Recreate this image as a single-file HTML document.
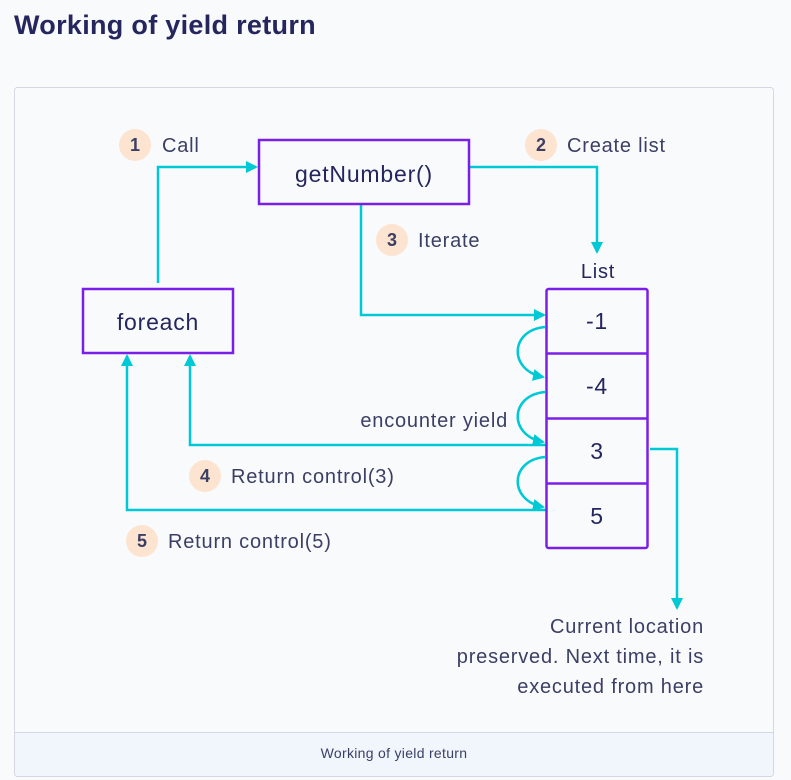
<!DOCTYPE html>
<html><head><meta charset="utf-8"><style>
html,body{margin:0;padding:0;background:#f9fafc;width:791px;height:780px;overflow:hidden;font-family:"Liberation Sans",sans-serif}
</style></head><body>
<svg width="791" height="780" xmlns="http://www.w3.org/2000/svg" font-family="Liberation Sans, sans-serif">
<rect width="791" height="780" fill="#f9fafc"/>
<text x="14" y="34" font-size="27" font-weight="bold" fill="#25265e" letter-spacing="0.3">Working of yield return</text>
<rect x="14.5" y="87.5" width="759" height="689" rx="3" fill="#f9fafc" stroke="#d3d8e4"/>
<path d="M15 732.5 H773 V773 a3 3 0 0 1 -3 3 H18 a3 3 0 0 1 -3 -3 Z" fill="#f1f5fc"/>
<line x1="15" y1="732.5" x2="773" y2="732.5" stroke="#d3d8e4"/>
<text x="394" y="758" font-size="14" fill="#3b3f64" text-anchor="middle" letter-spacing="0.3">Working of yield return</text>
<defs><marker id="a" markerWidth="12" markerHeight="12" refX="10" refY="6" orient="auto" markerUnits="userSpaceOnUse"><path d="M0,0 L12,6 L0,12 Z" fill="#00c9d6"/></marker></defs>
<g fill="none" stroke="#00c9d6" stroke-width="2.5">
<path d="M158 283 V167 H256" marker-end="url(#a)"/>
<path d="M470 167 H597 V252" marker-end="url(#a)"/>
<path d="M361 202 V315 H544" marker-end="url(#a)"/>
<path d="M546 445 H190 V356" marker-end="url(#a)"/>
<path d="M546 510 H127 V356" marker-end="url(#a)"/>
<path d="M650 449 H677 V608" marker-end="url(#a)"/>
<path d="M545 327 C510 330 508 370 543 377" marker-end="url(#a)"/>
<path d="M545 392 C510 395 508 435 543 442" marker-end="url(#a)"/>
<path d="M545 457 C510 460 508 500 543 507" marker-end="url(#a)"/>
</g>
<g fill="#f9fafc" stroke="#7a1fe8" stroke-width="2.5">
<rect x="259" y="140" width="210" height="64"/>
<rect x="83" y="289" width="150" height="64"/>
<rect x="546.5" y="289" width="101" height="259" rx="2"/>
<line x1="546" y1="353.5" x2="648" y2="353.5"/>
<line x1="546" y1="418.5" x2="648" y2="418.5"/>
<line x1="546" y1="483.5" x2="648" y2="483.5"/>
</g>
<g font-size="23" fill="#25265e" text-anchor="middle" letter-spacing="0.8">
<text x="364" y="182">getNumber()</text>
<text x="158" y="330">foreach</text>
<text x="597" y="329">-1</text>
<text x="597" y="394">-4</text>
<text x="597" y="459">3</text>
<text x="597" y="524">5</text>
<text x="598" y="278" font-size="20">List</text>
</g>
<g fill="#fde4d0">
<circle cx="135" cy="145" r="16"/><circle cx="541" cy="145" r="16"/><circle cx="392" cy="240" r="16"/><circle cx="205" cy="476" r="16"/><circle cx="142" cy="541" r="16"/>
</g>
<g font-size="18" font-weight="bold" fill="#3b3f64" text-anchor="middle">
<text x="135" y="151">1</text><text x="541" y="151">2</text><text x="392" y="246">3</text><text x="205" y="482">4</text><text x="142" y="547">5</text>
</g>
<g font-size="20" fill="#3b3f64" letter-spacing="0.8">
<text x="162" y="152">Call</text>
<text x="567" y="152">Create list</text>
<text x="418" y="247">Iterate</text>
<text x="231" y="483">Return control(3)</text>
<text x="168" y="548">Return control(5)</text>
<text x="508" y="427" text-anchor="end">encounter yield</text>
<text x="704" y="633" text-anchor="end">Current location</text>
<text x="704" y="663" text-anchor="end">preserved. Next time, it is</text>
<text x="704" y="693" text-anchor="end">executed from here</text>
</g>
</svg>
</body></html>
